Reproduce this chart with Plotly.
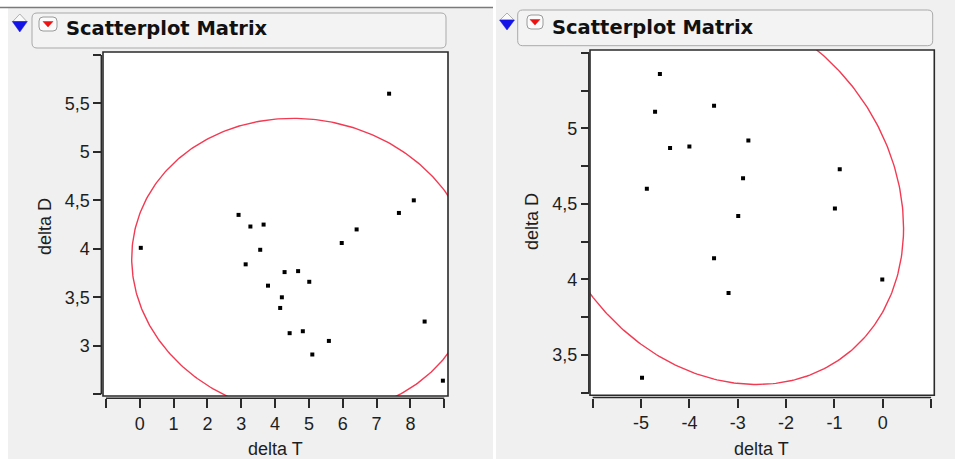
import numpy as np
import plotly.graph_objects as go

W, H = 955, 459

# ---------------- data ----------------
left_dT = [0.03, 2.92, 3.27, 3.66, 3.56, 3.13, 3.79, 4.28, 4.68, 5.01, 4.20, 4.15,
           4.43, 4.82, 5.10, 5.59, 5.97, 6.41, 7.37, 7.66, 8.10, 8.42, 8.96]
left_dD = [4.01, 4.35, 4.23, 4.25, 3.99, 3.84, 3.62, 3.76, 3.77, 3.66, 3.50, 3.39,
           3.13, 3.15, 2.91, 3.05, 4.06, 4.20, 5.60, 4.37, 4.50, 3.25, 2.64]

right_dT = [-4.61, -4.71, -4.40, -4.00, -4.88, -3.49, -2.78, -2.89, -2.99, -3.49,
            -3.19, -4.98, -0.89, -0.99, -0.01]
right_dD = [5.36, 5.11, 4.87, 4.88, 4.60, 5.15, 4.92, 4.67, 4.42, 4.14,
            3.91, 3.35, 4.73, 4.47, 4.00]

# density ellipse parameters (centre and covariance matrix)
left_ell = dict(cx=4.825, cy=3.812, vxx=25.64, vyy=2.353, vxy=-0.454)
right_ell = dict(cx=-3.298, cy=4.574, vxx=13.90, vyy=1.611, vxy=-0.871)

left_xticks = list(range(-1, 10))
left_yticks = [2.5, 3, 3.5, 4, 4.5, 5, 5.5, 6]
right_xticks = list(range(-6, 2))
right_yticks = [3.25, 3.5, 3.75, 4, 4.25, 4.5, 4.75, 5, 5.25, 5.5]

left_xlabels = ["", "0", "1", "2", "3", "4", "5", "6", "7", "8", ""]
left_ylabels = ["", "3", "3,5", "4", "4,5", "5", "5,5", ""]
right_xlabels = ["", "-5", "-4", "-3", "-2", "-1", "0", ""]
right_ylabels = ["", "3,5", "", "4", "", "4,5", "", "5", "", ""]

title_text = "Scatterplot Matrix"
x_title = "delta T"
y_title = "delta D"


def ellipse(e, n=400):
    t = np.linspace(0, 2 * np.pi, n)
    S = np.array([[e["vxx"], e["vxy"]], [e["vxy"], e["vyy"]]])
    L = np.linalg.cholesky(S)
    p = L @ np.vstack([np.cos(t), np.sin(t)])
    return e["cx"] + p[0], e["cy"] + p[1]


def X(x):
    return x / W


def Y(y):
    return 1 - y / H


ELL_COLOR = "#f23a52"
TXT = "#1e1e1e"
AX = "#2a2a2a"

fig = go.Figure()

lx, ly = ellipse(left_ell)
rx, ry = ellipse(right_ell)
fig.add_trace(go.Scatter(x=lx, y=ly, mode="lines", line=dict(color=ELL_COLOR, width=1.4),
                         xaxis="x", yaxis="y", hoverinfo="skip"))
fig.add_trace(go.Scatter(x=left_dT, y=left_dD, mode="markers",
                         marker=dict(symbol="square", size=4, color="black"),
                         xaxis="x", yaxis="y", cliponaxis=True))
fig.add_trace(go.Scatter(x=rx, y=ry, mode="lines", line=dict(color=ELL_COLOR, width=1.4),
                         xaxis="x2", yaxis="y2", hoverinfo="skip"))
fig.add_trace(go.Scatter(x=right_dT, y=right_dD, mode="markers",
                         marker=dict(symbol="square", size=4, color="black"),
                         xaxis="x2", yaxis="y2", cliponaxis=True))

# panel geometry (pixels)
L_box = (103, 52, 448, 396)
R_box = (590, 50, 934.3, 395.3)
L_yaxis_x, L_xaxis_y = 101.3, 398.3
R_yaxis_x, R_xaxis_y = 588.8, 397.5

tickfont = dict(family="Liberation Sans, Arial, sans-serif", size=18, color=TXT)

common = dict(showgrid=False, zeroline=False, showline=False, ticks="outside",
              tickcolor=AX, tickwidth=1.5, tickfont=tickfont, fixedrange=True)

fig.update_layout(
    width=W, height=H,
    margin=dict(l=0, r=0, t=0, b=0),
    paper_bgcolor="#f0f0f0",
    plot_bgcolor="white",
    showlegend=False,
    xaxis=dict(domain=[X(L_box[0]), X(L_box[2])], range=[-1.087, 9.111],
               anchor="free", position=Y(L_xaxis_y),
               tickvals=left_xticks, ticktext=left_xlabels, ticklen=9, **common),
    yaxis=dict(domain=[Y(L_box[3]), Y(L_box[1])], range=[2.482, 6.030],
               anchor="free", position=X(L_yaxis_x),
               tickvals=left_yticks, ticktext=left_ylabels, ticklen=8, **common),
    xaxis2=dict(domain=[X(R_box[0]), X(R_box[2])], range=[-6.056, 1.066],
                anchor="free", position=Y(R_xaxis_y),
                tickvals=right_xticks, ticktext=right_xlabels, ticklen=9, **common),
    yaxis2=dict(domain=[Y(R_box[3]), Y(R_box[1])], range=[3.2332, 5.5184],
                anchor="free", position=X(R_yaxis_x),
                tickvals=right_yticks, ticktext=right_ylabels, ticklen=8, **common),
)

shapes = []
# background structure
shapes.append(dict(type="rect", xref="paper", yref="paper", x0=0, x1=X(8), y0=0, y1=1,
                   fillcolor="white", line=dict(width=0), layer="below"))
shapes.append(dict(type="rect", xref="paper", yref="paper", x0=X(493), x1=X(496), y0=0, y1=1,
                   fillcolor="white", line=dict(width=0), layer="below"))
shapes.append(dict(type="rect", xref="paper", yref="paper", x0=0, x1=X(493), y0=Y(7), y1=1,
                   fillcolor="white", line=dict(width=0), layer="below"))
shapes.append(dict(type="line", xref="paper", yref="paper", x0=0, x1=X(493), y0=Y(7.5), y1=Y(7.5),
                   line=dict(color="#7a7a7a", width=1.5), layer="below"))


def rrect(x0, y0, x1, y1, r):
    return (f"M {X(x0 + r)},{Y(y0)} L {X(x1 - r)},{Y(y0)} Q {X(x1)},{Y(y0)} {X(x1)},{Y(y0 + r)} "
            f"L {X(x1)},{Y(y1 - r)} Q {X(x1)},{Y(y1)} {X(x1 - r)},{Y(y1)} "
            f"L {X(x0 + r)},{Y(y1)} Q {X(x0)},{Y(y1)} {X(x0)},{Y(y1 - r)} "
            f"L {X(x0)},{Y(y0 + r)} Q {X(x0)},{Y(y0)} {X(x0 + r)},{Y(y0)} Z")


def poly(pts):
    return "M " + " L ".join(f"{X(a)},{Y(b)}" for a, b in pts) + " Z"


def header(box, icon_cx, icon_top, icon_mid, icon_bot, btn, title_x, title_y):
    s = []
    s.append(dict(type="path", xref="paper", yref="paper", path=rrect(*box, 5),
                  fillcolor="#f3f3f3", line=dict(color="#a9a9a9", width=1), layer="below"))
    # disclosure diamond
    s.append(dict(type="path", xref="paper", yref="paper",
                  path=poly([(icon_cx - 7, icon_mid), (icon_cx, icon_top), (icon_cx + 7, icon_mid)]),
                  fillcolor="#fafafa", line=dict(color="#b0b0b0", width=1), layer="above"))
    s.append(dict(type="path", xref="paper", yref="paper",
                  path=poly([(icon_cx - 7.5, icon_mid), (icon_cx + 7.5, icon_mid), (icon_cx, icon_bot)]),
                  fillcolor="#1414e6", line=dict(color="#1414e6", width=0.5), layer="above"))
    # red popup button
    bx0, by0, bx1, by1 = btn
    s.append(dict(type="path", xref="paper", yref="paper", path=rrect(bx0, by0, bx1, by1, 4),
                  fillcolor="#fbfbfb", line=dict(color="#9a9a9a", width=1), layer="above"))
    cx = (bx0 + bx1) / 2
    cy = (by0 + by1) / 2
    s.append(dict(type="path", xref="paper", yref="paper",
                  path=poly([(cx - 5, cy - 2.5), (cx + 5, cy - 2.5), (cx, cy + 3)]),
                  fillcolor="#ee1111", line=dict(color="#ee1111", width=0.5), layer="above"))
    return s


shapes += header((32, 13, 446, 48), 19.8, 14, 21.5, 32, (39, 17, 57, 31), 65, 28)
shapes += header((517.7, 10, 932.7, 45.7), 507, 13, 20, 30, (527, 15, 543, 29), 551, 27)

# plot frames
for b in (L_box, R_box):
    shapes.append(dict(type="rect", xref="paper", yref="paper", x0=X(b[0]), x1=X(b[2]),
                       y0=Y(b[3]), y1=Y(b[1]), line=dict(color=AX, width=1.6), layer="above"))

# axis lines spanning first..last tick
shapes.append(dict(type="line", xref="x", yref="paper", x0=left_xticks[0], x1=left_xticks[-1],
                   y0=Y(L_xaxis_y), y1=Y(L_xaxis_y), line=dict(color=AX, width=1.5)))
shapes.append(dict(type="line", xref="paper", yref="y", x0=X(L_yaxis_x), x1=X(L_yaxis_x),
                   y0=left_yticks[0], y1=left_yticks[-1], line=dict(color=AX, width=1.5)))
shapes.append(dict(type="line", xref="x2", yref="paper", x0=right_xticks[0], x1=right_xticks[-1],
                   y0=Y(R_xaxis_y), y1=Y(R_xaxis_y), line=dict(color=AX, width=1.5)))
shapes.append(dict(type="line", xref="paper", yref="y2", x0=X(R_yaxis_x), x1=X(R_yaxis_x),
                   y0=right_yticks[0], y1=right_yticks[-1], line=dict(color=AX, width=1.5)))

fig.update_layout(shapes=shapes)

titlefont = dict(family="DejaVu Sans, Verdana, sans-serif", size=19.5, color="#111111")
axtitlefont = dict(family="Liberation Sans, Arial, sans-serif", size=18, color=TXT)
annotations = [
    dict(text=f"<b>{title_text}</b>", x=X(64), y=Y(28), xref="paper", yref="paper",
         xanchor="left", yanchor="middle", showarrow=False, font=titlefont),
    dict(text=f"<b>{title_text}</b>", x=X(550), y=Y(27), xref="paper", yref="paper",
         xanchor="left", yanchor="middle", showarrow=False, font=titlefont),
    dict(text=x_title, x=X(275.5), y=Y(449), xref="paper", yref="paper",
         xanchor="center", yanchor="middle", showarrow=False, font=axtitlefont),
    dict(text=x_title, x=X(761.7), y=Y(449), xref="paper", yref="paper",
         xanchor="center", yanchor="middle", showarrow=False, font=axtitlefont),
    dict(text=y_title, x=X(45), y=Y(227), xref="paper", yref="paper", textangle=-90,
         xanchor="center", yanchor="middle", showarrow=False, font=axtitlefont),
    dict(text=y_title, x=X(532), y=Y(222), xref="paper", yref="paper", textangle=-90,
         xanchor="center", yanchor="middle", showarrow=False, font=axtitlefont),
]
fig.update_layout(annotations=annotations)

fig.write_html("out.html")
